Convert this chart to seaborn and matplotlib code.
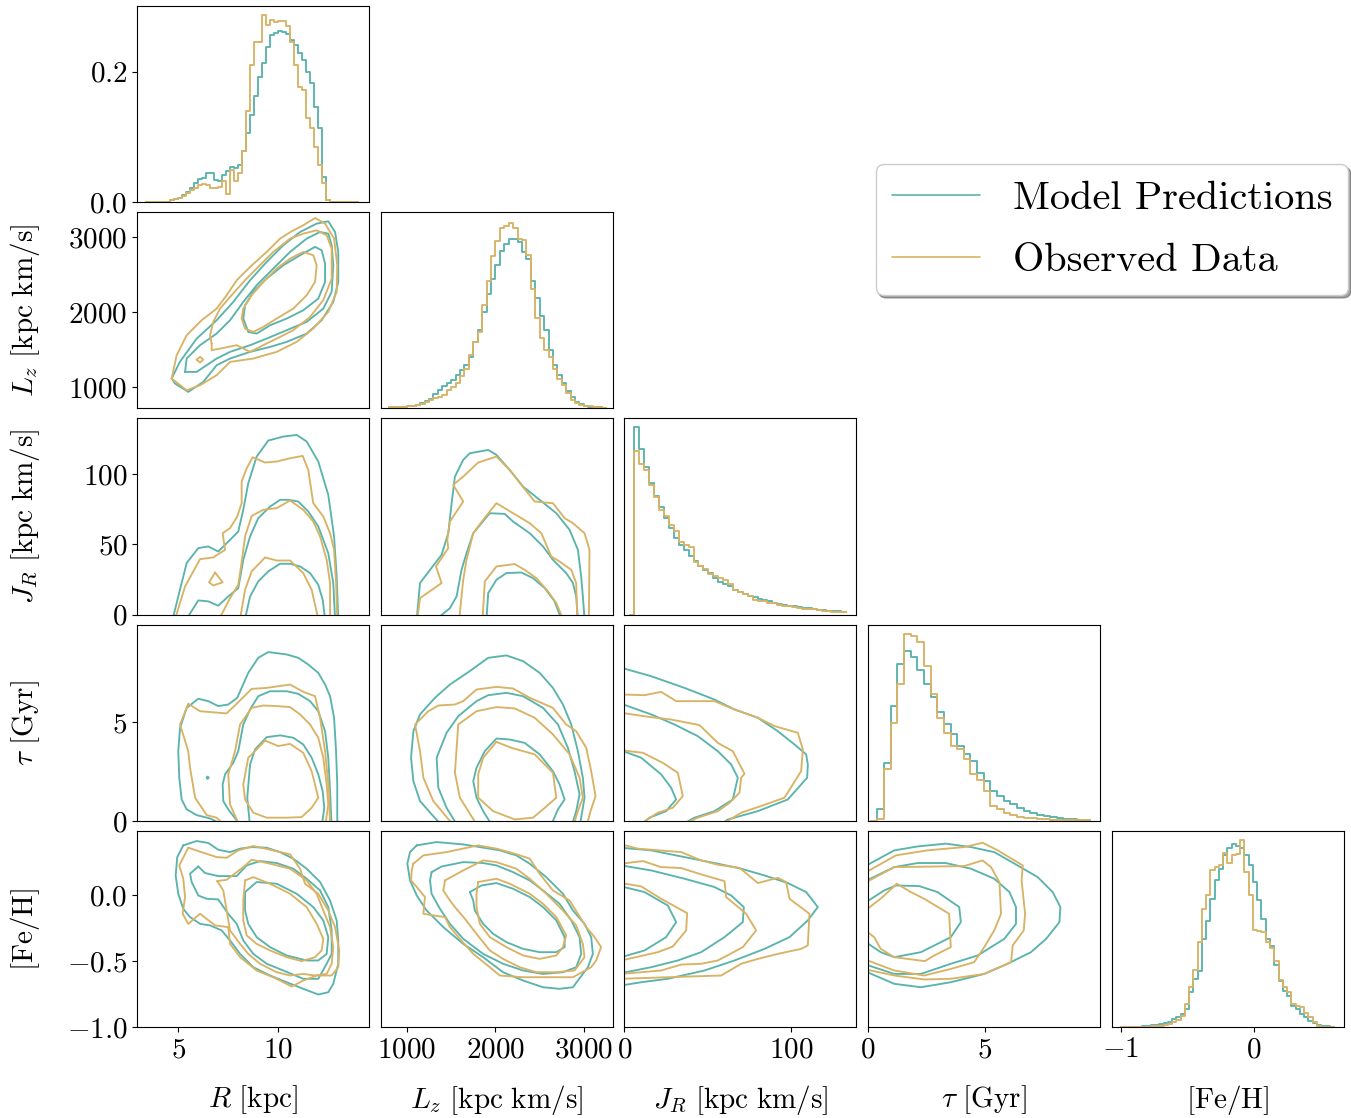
import numpy as np
import pandas as pd
import matplotlib
matplotlib.use("Agg")
import matplotlib.pyplot as plt
from matplotlib.lines import Line2D
import seaborn as sns

# --- colours ---
MODEL_COLOR = "#5ab4ac"
OBS_COLOR = "#d8b365"
LW = 1.35

# --- 1D histograms (heights) ---
# R panel has a real y scale, the other diagonals are in fractions of the panel height
r_range = (3.4, 14.0)
r_hist_model = [0, 0, 0, 0, 0, 0.001, 0.003, 0.005, 0.007, 0.011, 0.016, 0.021, 0.029, 0.036,
                0.037, 0.044, 0.044, 0.034, 0.032, 0.042, 0.048, 0.054, 0.052, 0.057, 0.078,
                0.106, 0.134, 0.162, 0.192, 0.213, 0.238, 0.256, 0.259, 0.262, 0.260, 0.257,
                0.249, 0.241, 0.228, 0.218, 0.200, 0.182, 0.146, 0.113, 0.039, 0.003,
                0, 0, 0, 0, 0, 0, 0]
r_hist_obs = [0, 0, 0, 0, 0, 0.0, 0.004, 0.005, 0.007, 0.010, 0.014, 0.018, 0.021, 0.026,
              0.028, 0.026, 0.021, 0.021, 0.023, 0.032, 0.013, 0.049, 0.032, 0.044, 0.078,
              0.140, 0.210, 0.246, 0.246, 0.287, 0.271, 0.279, 0.276, 0.278, 0.277, 0.270,
              0.246, 0.210, 0.177, 0.172, 0.129, 0.113, 0.085, 0.057, 0.030, 0.003,
              0, 0, 0, 0, 0, 0, 0]

lz_range = (800, 3250)
lz_hist_model = [0.005, 0.005, 0.007, 0.008, 0.010, 0.012, 0.017, 0.028, 0.036, 0.050,
                 0.076, 0.093, 0.115, 0.130, 0.145, 0.170, 0.195, 0.220, 0.260, 0.339,
                 0.400, 0.492, 0.585, 0.660, 0.729, 0.800, 0.839, 0.860, 0.864, 0.847,
                 0.797, 0.763, 0.650, 0.560, 0.470, 0.400, 0.297, 0.220, 0.170, 0.130,
                 0.090, 0.059, 0.034, 0.022, 0.012, 0.009, 0.007, 0.005, 0.003]
lz_hist_obs = [0.005, 0.005, 0.006, 0.007, 0.010, 0.012, 0.017, 0.022, 0.034, 0.045,
               0.054, 0.060, 0.070, 0.093, 0.110, 0.130, 0.165, 0.200, 0.270, 0.339,
               0.390, 0.525, 0.650, 0.775, 0.850, 0.920, 0.930, 0.945, 0.920, 0.864,
               0.855, 0.780, 0.610, 0.460, 0.360, 0.297, 0.260, 0.200, 0.150, 0.120,
               0.080, 0.045, 0.030, 0.020, 0.013, 0.010, 0.008, 0.005, 0.003]

jr_range = (3.05, 133.0)
jr_hist_model = [0.0, 0.954, 0.842, 0.754, 0.673, 0.605, 0.547, 0.492, 0.441, 0.390, 0.356,
                 0.331, 0.297, 0.276, 0.249, 0.229, 0.212, 0.186, 0.169, 0.158, 0.144,
                 0.124, 0.114, 0.105, 0.097, 0.088, 0.081, 0.073, 0.068, 0.061, 0.056,
                 0.051, 0.046, 0.042, 0.039, 0.036, 0.032, 0.029, 0.025, 0.024, 0.020,
                 0.019, 0.017, 0.015]
jr_hist_obs = [0.0, 0.831, 0.768, 0.737, 0.661, 0.598, 0.534, 0.503, 0.458, 0.424, 0.368,
               0.356, 0.347, 0.271, 0.246, 0.232, 0.208, 0.198, 0.186, 0.178, 0.158,
               0.127, 0.114, 0.107, 0.097, 0.073, 0.068, 0.068, 0.059, 0.059, 0.051,
               0.046, 0.042, 0.039, 0.032, 0.031, 0.029, 0.027, 0.025, 0.020, 0.019,
               0.015, 0.014, 0.014]

tau_range = (0.116, 9.5)
tau_hist_model = [0.0, 0.059, 0.297, 0.585, 0.797, 0.864, 0.834, 0.771, 0.698, 0.631, 0.556,
                  0.495, 0.441, 0.381, 0.339, 0.305, 0.246, 0.203, 0.153, 0.127, 0.102,
                  0.085, 0.064, 0.051, 0.042, 0.031, 0.024, 0.020, 0.017, 0.012, 0.008,
                  0.007, 0.005]
tau_hist_obs = [0.0, 0.008, 0.263, 0.500, 0.698, 0.953, 0.941, 0.912, 0.788, 0.647, 0.522,
                0.449, 0.381, 0.368, 0.314, 0.241, 0.207, 0.153, 0.076, 0.059, 0.042,
                0.031, 0.020, 0.017, 0.014, 0.010, 0.008, 0.006, 0.005, 0.005, 0.004,
                0.003, 0.003]

feh_range = (-1.0, 0.6)
feh_hist_model = [0.003, 0.003, 0.003, 0.004, 0.004, 0.005, 0.008, 0.010, 0.014, 0.016,
                  0.021, 0.028, 0.040, 0.051, 0.068, 0.094, 0.179, 0.247, 0.289, 0.451,
                  0.541, 0.655, 0.752, 0.808, 0.876, 0.915, 0.932, 0.925, 0.912, 0.876,
                  0.825, 0.740, 0.646, 0.553, 0.451, 0.412, 0.315, 0.238, 0.187, 0.162,
                  0.111, 0.094, 0.068, 0.051, 0.034, 0.020, 0.012, 0.009, 0.005, 0.003]
feh_hist_obs = [0.002, 0.002, 0.002, 0.003, 0.003, 0.003, 0.004, 0.005, 0.006, 0.006,
                0.010, 0.017, 0.026, 0.037, 0.060, 0.119, 0.204, 0.293, 0.434, 0.604,
                0.672, 0.799, 0.816, 0.825, 0.888, 0.837, 0.876, 0.881, 0.952, 0.791,
                0.672, 0.497, 0.490, 0.485, 0.434, 0.405, 0.340, 0.241, 0.204, 0.179,
                0.119, 0.111, 0.105, 0.071, 0.054, 0.026, 0.009, 0.004, 0.003, 0.002]

# --- density contours (vertices, in data units) ---
lz_r_model = [
    [(4.67, 1111), (5.08, 1333), (5.92, 1644), (6.92, 1889), (7.75, 2133), (8.59, 2422),
     (9.42, 2667), (10.25, 2889), (11.09, 3066), (11.92, 3178), (12.50, 3209), (12.84, 3066),
     (13.0, 2800), (13.0, 2400), (12.75, 2133), (12.17, 1889), (11.42, 1711), (10.42, 1600),
     (9.59, 1533), (8.59, 1467), (7.59, 1378), (6.92, 1289), (6.25, 1066), (5.50, 933),
     (4.84, 1044), (4.67, 1111)],
    [(5.34, 1200), (5.42, 1378), (6.09, 1556), (6.92, 1711), (7.59, 1889), (8.25, 2133),
     (8.92, 2356), (9.75, 2578), (10.59, 2800), (11.42, 2978), (12.09, 3066), (12.50, 3044),
     (12.67, 2889), (12.75, 2622), (12.67, 2267), (12.25, 2044), (11.42, 1867), (10.42, 1756),
     (9.42, 1644), (8.59, 1556), (7.59, 1467), (6.92, 1378), (6.42, 1289), (5.92, 1200),
     (5.34, 1200)],
    [(8.25, 1911), (8.34, 2089), (8.75, 2267), (9.42, 2444), (10.25, 2622), (11.09, 2756),
     (11.84, 2867), (12.17, 2822), (12.34, 2644), (12.34, 2400), (12.0, 2178), (11.25, 2022),
     (10.42, 1911), (9.59, 1822), (8.92, 1711), (8.50, 1733), (8.25, 1911)],
]
lz_r_obs = [
    [(4.67, 1111), (5.42, 955), (6.09, 1022), (6.92, 1156), (7.59, 1333), (8.75, 1378),
     (9.92, 1467), (10.92, 1600), (11.75, 1778), (12.50, 2000), (12.92, 2267), (12.95, 2622),
     (12.79, 2978), (12.34, 3178), (11.84, 3253), (11.25, 3156), (10.67, 3075), (10.09, 2978),
     (9.42, 2800), (8.59, 2600), (7.92, 2422), (7.42, 2222), (6.92, 2044), (6.17, 1889),
     (5.42, 1689), (4.92, 1422), (4.67, 1111)],
    [(6.67, 1578), (6.67, 1489), (7.09, 1511), (7.92, 1556), (8.59, 1467), (9.25, 1556),
     (9.92, 1644), (10.75, 1756), (11.59, 1933), (12.25, 2156), (12.67, 2444), (12.67, 2844),
     (12.42, 3022), (11.92, 3089), (11.25, 3044), (10.59, 2978), (9.75, 2800), (9.25, 2667),
     (8.75, 2533), (8.34, 2422), (7.59, 2200), (7.09, 2044), (6.75, 1867), (6.59, 1689),
     (6.67, 1578)],
    [(5.92, 1364), (6.09, 1400), (6.25, 1364), (6.09, 1324), (5.92, 1364)],
    [(8.17, 1911), (8.25, 2044), (8.67, 2222), (9.25, 2400), (9.92, 2578), (10.59, 2711),
     (11.25, 2800), (11.75, 2756), (11.92, 2622), (11.84, 2400), (11.42, 2222), (10.75, 2044),
     (9.92, 1911), (9.25, 1800), (8.75, 1733), (8.34, 1778), (8.17, 1911)],
]

jr_r_model = [
    [(4.72, -3), (5.42, 36.7), (6.0, 47.3), (6.5, 48.5), (7.0, 44.9), (7.59, 53.2), (8.0, 59.1),
     (8.25, 74.5), (8.5, 93.4), (8.92, 112.3), (9.5, 123.7), (10.25, 126.5), (10.92, 127.7),
     (11.42, 123.0), (12.0, 108.8), (12.5, 85.1), (12.79, 55.6), (12.92, 27.2), (13.0, -3)],
    [(5.42, -3), (6.0, 10.2), (6.5, 9.5), (7.0, 6.4), (7.5, 13.0), (8.0, 18.9), (8.25, 39.0),
     (8.59, 55.6), (9.0, 68.6), (9.59, 76.8), (10.09, 81.6), (10.5, 81.6), (11.0, 80.4),
     (11.5, 73.3), (12.0, 62.7), (12.5, 43.7), (12.75, 22.5), (12.84, -3)],
    [(8.34, -3), (8.59, 13.0), (9.0, 23.7), (9.5, 30.8), (10.09, 36.2), (10.59, 36.2),
     (11.09, 34.3), (11.59, 29.6), (12.0, 21.3), (12.22, 10.7), (12.34, -3)],
]
jr_r_obs = [
    [(4.84, -3), (5.34, 20.1), (6.09, 39.5), (6.75, 40.7), (7.34, 46.1), (7.22, 57.9),
     (7.59, 61.5), (7.95, 69.8), (8.17, 79.2), (8.17, 94.6), (8.42, 104.0), (8.72, 111.8),
     (9.34, 108.1), (9.92, 108.8), (10.59, 111.1), (11.22, 112.8), (11.5, 102.8), (11.75, 79.2),
     (12.25, 69.8), (12.59, 57.9), (12.79, 46.1), (12.89, 22.5), (12.95, -3)],
    [(7.05, -3), (7.59, 11.8), (8.0, 21.3), (8.14, 34.3), (8.34, 55.6), (8.67, 70.2),
     (9.25, 74.5), (9.92, 75.7), (10.59, 81.1), (11.25, 74.5), (11.75, 66.2), (12.09, 55.6),
     (12.42, 39.0), (12.59, 22.5), (12.59, -3)],
    [(6.84, 30.0), (7.22, 23.0), (6.75, 20.8), (6.54, 23.0), (6.84, 30.0)],
    [(8.09, -3), (8.34, 17.7), (8.67, 30.8), (9.34, 40.7), (9.92, 38.5), (10.59, 38.5),
     (11.25, 29.6), (11.67, 17.7), (12.0, -3)],
]

jr_lz_model = [
    [(1112, -3), (1149, 22.5), (1262, 31.9), (1393, 42.6), (1468, 57.9), (1506, 79.2),
     (1543, 98.1), (1637, 110.0), (1712, 114.7), (1919, 117.0), (2012, 113.5), (2162, 102.8),
     (2313, 91.0), (2500, 81.6), (2688, 72.1), (2838, 60.3), (2932, 46.1), (2969, 27.2),
     (2988, 13.0), (3007, -3)],
    [(1337, -3), (1487, 4.7), (1562, 13.0), (1618, 31.9), (1674, 43.7), (1750, 57.9),
     (1843, 65.0), (1937, 72.1), (2106, 71.6), (2200, 66.2), (2388, 57.9), (2538, 48.5),
     (2650, 39.0), (2800, 29.6), (2876, 22.5), (2913, 13.0), (2932, -3)],
    [(1900, -3), (1919, 15.4), (2012, 24.8), (2125, 29.6), (2294, 30.0), (2425, 26.0),
     (2557, 18.9), (2669, 9.5), (2744, -3)],
]
jr_lz_obs = [
    [(1119, -3), (1149, 11.8), (1393, 22.5), (1329, 34.3), (1468, 47.3), (1457, 53.2),
     (1487, 66.2), (1637, 80.4), (1524, 92.2), (1637, 98.1), (1806, 108.1), (2012, 112.3),
     (2162, 102.8), (2294, 92.2), (2444, 80.4), (2650, 79.2), (2782, 68.6), (2876, 65.0),
     (3007, 57.9), (3063, 46.1), (3056, -3)],
    [(1592, -3), (1637, 24.8), (1674, 39.0), (1750, 57.9), (1862, 67.4), (2012, 79.2),
     (2200, 72.1), (2388, 65.0), (2519, 57.9), (2631, 41.4), (2725, 37.8), (2857, 31.9),
     (2913, 22.5), (2924, -3)],
    [(1855, -3), (1881, 23.7), (2012, 34.3), (2219, 36.0), (2331, 31.9), (2463, 26.0),
     (2594, 16.6), (2688, 8.3), (2763, -3)],
]

tau_r_model = [
    [(7.5, -0.3), (6.59, 0.13), (5.92, 0.30), (5.42, 0.59), (5.17, 1.09), (5.05, 2.19),
     (5.0, 3.53), (5.09, 4.71), (5.42, 5.72), (6.0, 6.18), (6.5, 6.06), (7.0, 5.81), (7.5, 5.89),
     (7.95, 6.23), (8.5, 7.49), (9.0, 8.25), (9.5, 8.54), (10.42, 8.42), (11.0, 8.25),
     (11.5, 7.91), (12.0, 7.49), (12.34, 6.90), (12.59, 6.31), (12.79, 5.22), (12.89, 3.53),
     (12.95, 1.85), (12.95, -0.3)],
    [(8.17, -0.3), (7.5, 0.59), (7.25, 1.01), (7.22, 1.85), (7.34, 2.36), (7.75, 2.94),
     (8.0, 3.53), (8.25, 4.88), (8.59, 5.64), (9.0, 6.31), (9.59, 6.56), (10.42, 6.56),
     (11.0, 6.43), (11.59, 6.06), (12.0, 5.55), (12.34, 4.54), (12.5, 3.20), (12.59, 1.51),
     (12.67, -0.3)],
    [(8.59, -0.3), (8.45, 1.18), (8.59, 2.86), (8.84, 3.62), (9.42, 4.24), (10.09, 4.33),
     (10.75, 4.21), (11.25, 3.87), (11.67, 3.20), (12.0, 2.36), (12.22, 1.51), (12.3, 0.67),
     (12.17, -0.3)],
    [(6.42, 2.19), (6.47, 2.25), (6.52, 2.19), (6.47, 2.13), (6.42, 2.19)],
]
tau_r_obs = [
    [(7.42, -0.3), (6.92, 0.17), (6.42, 0.30), (5.84, 1.18), (5.59, 2.69), (5.5, 3.53),
     (5.09, 4.88), (5.5, 5.93), (6.09, 5.55), (7.42, 5.44), (7.92, 5.93), (8.67, 6.68),
     (9.42, 6.73), (10.59, 6.90), (11.25, 6.53), (11.84, 6.31), (12.09, 5.22), (12.34, 3.53),
     (12.54, 1.51), (12.59, -0.3)],
    [(8.09, -0.3), (7.59, 0.84), (7.5, 2.36), (7.84, 3.53), (8.09, 4.88), (8.67, 5.72),
     (9.25, 5.84), (9.92, 5.81), (10.59, 5.76), (11.09, 5.39), (11.59, 4.88), (12.0, 4.21),
     (12.25, 3.20), (12.42, 1.85), (12.5, 0.84), (12.34, -0.3)],
    [(9.34, 4.07), (10.0, 3.79), (10.59, 3.90), (11.25, 3.45), (11.67, 2.52), (12.0, 1.18),
     (11.67, 0.67), (11.17, 0.20), (10.42, 0.17), (9.42, 0.17), (8.75, 0.42), (8.34, 1.09),
     (8.25, 1.85), (8.5, 3.20), (8.92, 3.62), (9.34, 4.07)],
]

tau_lz_model = [
    [(1412, -0.3), (1280, 0.34), (1149, 1.01), (1074, 2.02), (1048, 3.20), (1074, 4.54),
     (1149, 5.39), (1318, 6.23), (1487, 6.90), (1712, 7.58), (1919, 8.25), (2125, 8.37),
     (2313, 8.08), (2500, 7.49), (2650, 6.73), (2763, 5.89), (2857, 4.88), (2932, 3.53),
     (2988, 2.19), (3007, 1.18), (2951, -0.3)],
    [(1581, -0.3), (1449, 0.67), (1356, 1.68), (1337, 3.20), (1449, 4.46), (1581, 5.30),
     (1787, 6.06), (1919, 6.36), (2125, 6.48), (2313, 6.31), (2538, 5.72), (2707, 4.88),
     (2819, 3.70), (2894, 2.52), (2951, 1.35), (2913, 0.50), (2857, -0.3)],
    [(1975, -0.3), (1862, 0.50), (1787, 1.18), (1750, 2.02), (1787, 2.69), (1881, 3.53),
     (2012, 4.17), (2162, 4.12), (2331, 3.95), (2500, 3.37), (2650, 2.52), (2725, 1.85),
     (2782, 1.09), (2707, 0.59), (2620, -0.3)],
]
tau_lz_obs = [
    [(1543, -0.3), (1299, 1.01), (1187, 2.19), (1149, 3.53), (1093, 4.88), (1243, 5.55),
     (1356, 5.84), (1543, 5.89), (1637, 6.06), (1787, 6.65), (2012, 6.78), (2200, 6.70),
     (2388, 6.23), (2650, 5.72), (2800, 4.88), (2913, 4.54), (3026, 3.70), (3082, 2.52),
     (3131, 1.26), (3075, 0.50), (3026, -0.3)],
    [(1806, -0.3), (1599, 1.18), (1543, 2.44), (1581, 4.88), (1787, 5.55), (2012, 5.76),
     (2219, 5.69), (2444, 5.22), (2650, 4.38), (2838, 3.37), (2951, 2.19), (2988, 1.18),
     (2932, 0.50), (2876, -0.3)],
    [(2012, 4.00), (2181, 3.70), (2444, 3.37), (2650, 2.44), (2688, 1.18), (2538, 0.59),
     (2425, 0.17), (2219, 0.08), (1975, 0.50), (1806, 1.18), (1806, 2.36), (1862, 3.20),
     (2012, 4.00)],
]

tau_jr_model = [
    [(-2, 7.75), (16, 7.32), (36, 6.73), (54, 6.14), (66, 5.64), (80, 5.22), (92, 4.54),
     (102, 3.87), (109, 3.37), (110, 2.86), (109.6, 2.19), (98, 1.09), (80, 0.50), (62, 0.08),
     (56, -0.3)],
    [(-2, 5.93), (16, 5.39), (30, 4.88), (44, 4.29), (56, 3.53), (64, 2.86), (68, 2.19),
     (65, 1.09), (54, 0.50), (42, 0.17), (32, -0.3)],
    [(-2, 3.57), (10, 3.20), (22, 2.36), (28, 1.68), (31, 1.09), (25, 0.50), (15, 0.17),
     (8, -0.3)],
]
tau_jr_obs = [
    [(-2, 6.40), (12, 6.36), (22, 6.53), (31, 6.06), (44, 6.06), (54, 6.06), (66, 5.64),
     (80, 5.22), (90, 4.80), (104, 4.46), (107, 3.62), (106, 2.52), (96, 1.18), (82, 0.76),
     (70, 0.42), (56, -0.3)],
    [(-2, 5.47), (16, 5.25), (28, 5.13), (45, 4.85), (56, 3.95), (65, 3.53), (72, 2.39),
     (70, 2.19), (69, 1.43), (63, 0.92), (56, 0.50), (44, 0.17), (32, -0.3)],
    [(-2, 3.58), (11, 3.45), (23, 2.94), (32, 2.44), (35, 1.26), (29, 0.67), (20, 0.42),
     (7, -0.3)],
]

feh_r_model = [
    [(5.25, 0.380), (5.92, 0.413), (6.5, 0.398), (7.0, 0.347), (7.59, 0.329), (8.09, 0.355),
     (8.67, 0.367), (9.42, 0.362), (10.09, 0.329), (10.75, 0.279), (11.42, 0.203),
     (12.09, 0.102), (12.59, -0.038), (12.92, -0.189), (13.0, -0.341), (13.0, -0.518),
     (12.75, -0.670), (12.5, -0.734), (12.0, -0.751), (11.25, -0.708), (10.42, -0.658),
     (9.59, -0.607), (8.75, -0.544), (8.09, -0.443), (7.59, -0.341), (7.17, -0.265),
     (6.59, -0.227), (6.09, -0.215), (5.59, -0.164), (5.25, -0.101), (5.0, 0.013),
     (4.87, 0.152), (4.95, 0.291), (5.25, 0.380)],
    [(6.0, 0.220), (6.34, 0.170), (7.0, 0.147), (7.92, 0.147), (8.42, 0.228), (9.09, 0.261),
     (9.92, 0.246), (10.75, 0.203), (11.42, 0.127), (12.09, 0.038), (12.5, -0.088),
     (12.67, -0.265), (12.67, -0.443), (12.42, -0.518), (12.0, -0.632), (11.25, -0.632),
     (10.25, -0.569), (9.42, -0.518), (8.75, -0.443), (8.25, -0.341), (7.92, -0.215),
     (7.5, -0.139), (7.0, -0.030), (6.42, -0.025), (6.0, 0.0), (5.67, 0.102), (5.59, 0.165),
     (6.0, 0.220)],
    [(8.34, 0.026), (8.92, 0.102), (9.92, 0.089), (10.92, 0.013), (11.75, -0.088),
     (12.25, -0.189), (12.5, -0.316), (12.42, -0.443), (12.0, -0.493), (11.42, -0.493),
     (10.42, -0.455), (9.59, -0.392), (8.92, -0.316), (8.5, -0.215), (8.34, -0.114),
     (8.34, 0.026)],
]
feh_r_obs = [
    [(5.5, 0.362), (6.92, 0.291), (7.42, 0.286), (8.0, 0.342), (8.75, 0.375), (9.59, 0.347),
     (10.59, 0.312), (11.09, 0.203), (11.34, 0.089), (12.0, 0.013), (12.5, -0.114),
     (12.84, -0.240), (13.05, -0.417), (13.0, -0.544), (12.67, -0.607), (11.92, -0.607),
     (11.25, -0.645), (10.67, -0.691), (9.92, -0.632), (8.92, -0.569), (8.09, -0.468),
     (7.59, -0.367), (7.5, -0.240), (6.84, -0.227), (6.09, -0.139), (5.5, -0.215),
     (5.22, -0.139), (5.34, -0.012), (5.25, 0.127), (5.05, 0.228), (5.5, 0.362)],
    [(6.95, 0.109), (7.42, 0.119), (8.25, 0.215), (8.67, 0.271), (9.59, 0.241), (10.59, 0.203),
     (11.42, 0.114), (11.92, 0.013), (12.25, -0.114), (12.59, -0.240), (12.75, -0.392),
     (12.67, -0.518), (12.42, -0.595), (11.84, -0.607), (11.25, -0.595), (10.59, -0.607),
     (9.92, -0.582), (9.09, -0.518), (8.5, -0.443), (8.09, -0.367), (7.59, -0.265),
     (7.42, -0.114), (7.25, 0.038), (6.95, 0.109)],
    [(8.34, 0.114), (8.75, 0.139), (9.59, 0.089), (10.59, 0.013), (11.42, -0.088),
     (11.92, -0.215), (12.25, -0.329), (12.17, -0.417), (11.84, -0.468), (11.17, -0.498),
     (10.42, -0.468), (9.59, -0.417), (8.92, -0.367), (8.42, -0.303), (8.25, -0.189),
     (8.25, -0.038), (8.34, 0.114)],
]

feh_lz_model = [
    [(1112, 0.380), (1337, 0.405), (1637, 0.387), (1825, 0.367), (2050, 0.342), (2237, 0.304),
     (2388, 0.241), (2575, 0.139), (2763, 0.013), (2876, -0.114), (3007, -0.215),
     (3082, -0.316), (3101, -0.443), (3045, -0.544), (2932, -0.645), (2876, -0.696),
     (2725, -0.708), (2538, -0.696), (2313, -0.645), (2087, -0.582), (1862, -0.468),
     (1637, -0.367), (1412, -0.240), (1224, -0.114), (1112, 0.0), (1036, 0.114),
     (1006, 0.241), (1036, 0.329), (1112, 0.380)],
    [(1280, 0.177), (1393, 0.220), (1637, 0.253), (1862, 0.246), (2012, 0.228), (2200, 0.177),
     (2388, 0.114), (2538, 0.038), (2725, -0.063), (2857, -0.189), (2951, -0.316),
     (2969, -0.443), (2913, -0.544), (2763, -0.582), (2538, -0.595), (2313, -0.569),
     (2087, -0.518), (1862, -0.443), (1637, -0.329), (1487, -0.215), (1374, -0.101),
     (1280, 0.013), (1262, 0.114), (1280, 0.177)],
    [(1712, 0.026), (1843, 0.076), (2012, 0.094), (2200, 0.051), (2388, -0.012),
     (2538, -0.088), (2688, -0.189), (2782, -0.316), (2782, -0.392), (2688, -0.430),
     (2500, -0.430), (2313, -0.405), (2125, -0.354), (1975, -0.291), (1862, -0.215),
     (1768, -0.114), (1750, -0.038), (1712, 0.026)],
]
feh_lz_obs = [
    [(1074, 0.241), (1187, 0.304), (1449, 0.329), (1806, 0.380), (2012, 0.355), (2219, 0.317),
     (2388, 0.279), (2500, 0.165), (2650, 0.038), (2838, -0.038), (2932, -0.139),
     (3026, -0.240), (3120, -0.316), (3194, -0.392), (3138, -0.493), (3082, -0.544),
     (2876, -0.620), (2613, -0.620), (2313, -0.620), (2050, -0.607), (1937, -0.544),
     (1750, -0.443), (1599, -0.329), (1487, -0.240), (1431, -0.164), (1299, -0.151),
     (1187, -0.139), (1205, -0.012), (1112, 0.064), (1048, 0.114), (1055, 0.190),
     (1074, 0.241)],
    [(1431, 0.114), (1637, 0.190), (1862, 0.266), (2012, 0.253), (2237, 0.203), (2388, 0.127),
     (2575, 0.013), (2763, -0.114), (2913, -0.227), (2988, -0.367), (3007, -0.468),
     (2894, -0.569), (2688, -0.582), (2463, -0.582), (2275, -0.544), (2087, -0.481),
     (1937, -0.417), (1787, -0.291), (1656, -0.177), (1543, -0.088), (1487, -0.038),
     (1412, 0.038), (1431, 0.114)],
    [(1806, 0.102), (2012, 0.127), (2162, 0.089), (2388, 0.013), (2538, -0.063),
     (2688, -0.164), (2800, -0.303), (2763, -0.392), (2688, -0.455), (2500, -0.481),
     (2313, -0.455), (2125, -0.392), (1937, -0.316), (1825, -0.215), (1787, -0.088),
     (1787, 0.013), (1806, 0.102)],
]

feh_jr_model = [
    [(-2, 0.362), (16, 0.342), (36, 0.291), (56, 0.241), (70, 0.203), (84, 0.152), (98, 0.094),
     (109, 0.026), (116, -0.088), (110, -0.189), (99, -0.316), (84, -0.405), (66, -0.493),
     (48, -0.569), (26, -0.632), (10, -0.658), (-2, -0.683)],
    [(-2, 0.228), (16, 0.190), (36, 0.127), (54, 0.064), (64, 0.0), (71.6, -0.088),
     (71, -0.202), (60, -0.316), (46, -0.430), (32, -0.493), (16, -0.544), (-2, -0.589)],
    [(-2, 0.069), (12, 0.026), (26, -0.076), (31, -0.202), (25, -0.316), (12, -0.417),
     (-2, -0.468)],
]
feh_jr_obs = [
    [(-2, 0.388), (8, 0.355), (34, 0.329), (46, 0.266), (56, 0.233), (69, 0.210), (80, 0.094),
     (92, 0.134), (97, 0.102), (99, -0.025), (111, -0.139), (110, -0.379), (106, -0.405),
     (92, -0.443), (80, -0.481), (70, -0.518), (58, -0.607), (26, -0.620), (-2, -0.632)],
    [(-2, 0.241), (11, 0.261), (22, 0.215), (34, 0.208), (46, 0.160), (60, 0.109),
     (61, -0.012), (73, -0.139), (79, -0.265), (71, -0.392), (56, -0.493), (46, -0.518),
     (34, -0.524), (22, -0.569), (-2, -0.595)],
    [(-2, 0.094), (10, 0.069), (22, -0.025), (37.6, -0.134), (37, -0.265), (29, -0.387),
     (20, -0.430), (-2, -0.493)],
]

feh_tau_model = [
    [(-0.2, 0.215), (1.12, 0.342), (2.12, 0.372), (3.33, 0.393), (4.40, 0.367), (5.40, 0.329),
     (6.40, 0.228), (7.26, 0.139), (7.90, 0.026), (8.23, -0.088), (8.19, -0.202),
     (7.62, -0.329), (6.97, -0.430), (5.97, -0.518), (4.97, -0.595), (3.54, -0.658),
     (2.26, -0.696), (1.12, -0.670), (-0.2, -0.569)],
    [(-0.2, 0.102), (1.12, 0.215), (2.12, 0.246), (3.33, 0.246), (4.40, 0.203), (5.40, 0.127),
     (6.05, 0.026), (6.33, -0.088), (6.33, -0.215), (5.83, -0.329), (4.69, -0.455),
     (3.54, -0.518), (2.26, -0.595), (1.12, -0.595), (-0.2, -0.518)],
    [(-0.2, -0.063), (0.69, 0.038), (1.19, 0.076), (2.19, 0.071), (2.97, 0.026),
     (3.90, -0.088), (3.97, -0.202), (3.54, -0.316), (2.97, -0.367), (2.26, -0.430),
     (1.12, -0.468), (0.54, -0.430), (-0.2, -0.341)],
]
feh_tau_obs = [
    [(-0.2, 0.165), (1.19, 0.304), (2.54, 0.342), (4.12, 0.367), (4.90, 0.400), (5.55, 0.342),
     (6.62, 0.228), (6.57, 0.114), (6.72, -0.139), (6.66, -0.265), (6.19, -0.379),
     (6.12, -0.506), (4.97, -0.595), (3.54, -0.632), (2.40, -0.637), (1.12, -0.607),
     (-0.2, -0.557)],
    [(-0.2, 0.089), (1.12, 0.215), (4.12, 0.223), (4.90, 0.266), (5.26, 0.215), (5.62, 0.102),
     (5.69, -0.139), (5.40, -0.265), (4.97, -0.392), (4.54, -0.506), (3.54, -0.557),
     (2.40, -0.607), (1.12, -0.569), (-0.2, -0.481)],
    [(-0.2, -0.126), (0.62, -0.012), (1.23, 0.089), (1.83, 0.026), (2.40, -0.025),
     (3.47, -0.139), (3.54, -0.392), (2.83, -0.455), (2.43, -0.498), (1.12, -0.468),
     (0.54, -0.405), (0.26, -0.316), (-0.2, -0.253)],
]

# --- axes setup ---
var_labels = [r"$R\ [\mathrm{kpc}]$", r"$L_z\ [\mathrm{kpc\ km/s}]$",
              r"$J_R\ [\mathrm{kpc\ km/s}]$", r"$\tau\ [\mathrm{Gyr}]$", r"$[\mathrm{Fe/H}]$"]
x_limits = [(2.95, 14.55), (707, 3327), (0, 139.2), (0, 9.93), (-1.07, 0.674)]
y_limits = [(0, 0.301), (712, 3333), (0, 139.5), (0, 9.93), (-1.0, 0.49)]
x_ticks = [[5, 10], [1000, 2000, 3000], [0, 100], [0, 5], [-1, 0]]
y_ticks = [[0.0, 0.2], [1000, 2000, 3000], [0, 50, 100], [0, 5], [-1.0, -0.5, 0.0]]

hists = {
    0: (r_range, r_hist_model, r_hist_obs),
    1: (lz_range, lz_hist_model, lz_hist_obs),
    2: (jr_range, jr_hist_model, jr_hist_obs),
    3: (tau_range, tau_hist_model, tau_hist_obs),
    4: (feh_range, feh_hist_model, feh_hist_obs),
}
pairs = {
    (1, 0): (lz_r_model, lz_r_obs),
    (2, 0): (jr_r_model, jr_r_obs),
    (2, 1): (jr_lz_model, jr_lz_obs),
    (3, 0): (tau_r_model, tau_r_obs),
    (3, 1): (tau_lz_model, tau_lz_obs),
    (3, 2): (tau_jr_model, tau_jr_obs),
    (4, 0): (feh_r_model, feh_r_obs),
    (4, 1): (feh_lz_model, feh_lz_obs),
    (4, 2): (feh_jr_model, feh_jr_obs),
    (4, 3): (feh_tau_model, feh_tau_obs),
}

sns.set_style("ticks")
plt.rcParams.update({
    "font.family": "cmr10",
    "mathtext.fontset": "cm",
    "axes.formatter.use_mathtext": True,
    "axes.unicode_minus": True,
    "axes.edgecolor": "black",
    "axes.labelcolor": "black",
    "text.color": "black",
    "axes.linewidth": 0.8,
    "xtick.color": "black",
    "ytick.color": "black",
    "xtick.labelsize": 21,
    "ytick.labelsize": 21,
    "axes.labelsize": 21,
})


def draw_hist(ax, bin_range, heights, color):
    edges = np.linspace(bin_range[0], bin_range[1], len(heights) + 1)
    df = pd.DataFrame({"x": 0.5 * (edges[:-1] + edges[1:]), "w": heights})
    sns.histplot(data=df, x="x", weights="w", bins=list(edges), element="step", fill=False,
                 color=color, linewidth=LW, ax=ax)


def draw_contours(ax, levels, color):
    for pts in levels:
        df = pd.DataFrame(pts, columns=["x", "y"])
        sns.lineplot(data=df, x="x", y="y", sort=False, estimator=None,
                     color=color, linewidth=LW, ax=ax)


fig = plt.figure(figsize=(13.51, 11.18), dpi=100)
axes = fig.subplots(5, 5)
fig.subplots_adjust(left=0.1016, right=0.9946, bottom=0.0811, top=0.9949,
                    wspace=0.05, hspace=0.05)

for i in range(5):
    for j in range(5):
        ax = axes[i, j]
        if j > i:
            ax.axis("off")
            continue
        if i == j:
            rng, h_model, h_obs = hists[i]
            draw_hist(ax, rng, h_model, MODEL_COLOR)
            draw_hist(ax, rng, h_obs, OBS_COLOR)
            ax.set_ylim(y_limits[0] if i == 0 else (0, 1))
        else:
            lv_model, lv_obs = pairs[(i, j)]
            draw_contours(ax, lv_model, MODEL_COLOR)
            draw_contours(ax, lv_obs, OBS_COLOR)
            ax.set_ylim(y_limits[i])
        ax.set_xlim(x_limits[j])
        ax.set_xlabel("")
        ax.set_ylabel("")

        if i == 4:
            ax.set_xticks(x_ticks[j])
            ax.set_xlabel(var_labels[j])
            ax.xaxis.set_label_coords(0.5, -0.285)
        else:
            ax.set_xticks([])
        if j == 0:
            ax.set_yticks(y_ticks[i])
            if i > 0:
                ax.set_ylabel(var_labels[i])
                ax.yaxis.set_label_coords(-0.41, 0.5)
        else:
            ax.set_yticks([])

handles = [Line2D([], [], color=MODEL_COLOR, lw=1.2),
           Line2D([], [], color=OBS_COLOR, lw=1.2)]
fig.legend(handles, ["Model Predictions", "Observed Data"], loc="upper right",
           bbox_to_anchor=(0.998, 0.853), bbox_transform=fig.transFigure,
           borderaxespad=0, fontsize=29, handlelength=2.2, labelspacing=0.65,
           frameon=True, fancybox=True, shadow=True, labelcolor="black")

fig.savefig("out.png", dpi=100)
